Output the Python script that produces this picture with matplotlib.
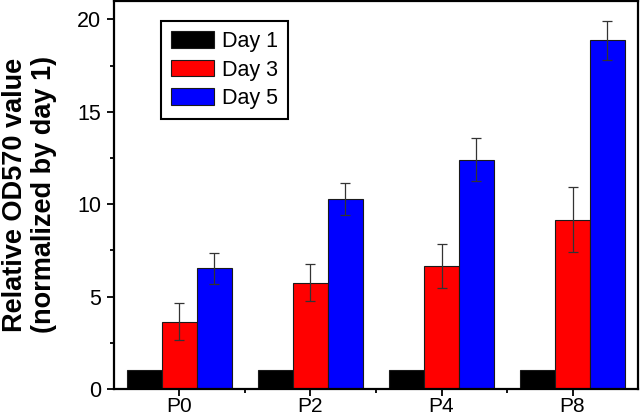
import numpy as np
import matplotlib
matplotlib.use('Agg')
import matplotlib.pyplot as plt
from matplotlib.ticker import MultipleLocator

plt.rcParams['font.family'] = ['Liberation Sans', 'DejaVu Sans']

# 数据
groups = ['P0', 'P2', 'P4', 'P8']
series = ['Day 1', 'Day 3', 'Day 5']
day1 = [1.0, 1.0, 1.0, 1.0]
day3 = [3.63, 5.76, 6.67, 9.16]
day5 = [6.52, 10.28, 12.41, 18.86]
day1_err = [0.0, 0.0, 0.0, 0.0]
day3_err = [1.0, 1.0, 1.2, 1.75]
day5_err = [0.85, 0.88, 1.15, 1.04]
colors = ['#000000', '#ff0000', '#0000ff']

fig = plt.figure(figsize=(6.4, 4.16), dpi=100)
ax = fig.add_axes([0.178, 0.065, 0.819, 0.933])

x = np.arange(len(groups))
w = 0.265
values = [day1, day3, day5]
errors = [day1_err, day3_err, day5_err]
for i, (vals, errs) in enumerate(zip(values, errors)):
    pos = x + (i - 1) * w
    ax.bar(pos, vals, w, color=colors[i], edgecolor='#1a1a1a', linewidth=0.8,
           label=series[i], zorder=2)
    if any(e > 0 for e in errs):
        ax.errorbar(pos, vals, yerr=errs, fmt='none', ecolor='#333333',
                    elinewidth=0.9, capsize=3.5, capthick=0.9, zorder=3)

ax.set_xlim(-0.5, 3.5)
ax.set_ylim(0, 21)
ax.set_xticks(x)
ax.set_xticklabels(groups)
ax.set_xticks(x[:-1] + 0.5, minor=True)
ax.yaxis.set_major_locator(MultipleLocator(5))
ax.yaxis.set_minor_locator(MultipleLocator(2.5))
ax.tick_params(axis='both', which='major', length=5, width=1.3)
ax.tick_params(axis='y', which='major', labelsize=15.5, pad=4)
ax.tick_params(axis='x', which='major', labelsize=15, pad=1)
ax.tick_params(axis='both', which='minor', length=3, width=1.3)
for s in ax.spines.values():
    s.set_linewidth(1.6)

ax.set_ylabel('Relative OD570 value\n(normalized by day 1)', fontsize=19.5,
              fontweight='bold', linespacing=1.15)
ax.yaxis.set_label_coords(-0.108, 0.5)

leg = ax.legend(loc='upper left', bbox_to_anchor=(0.09, 0.947), fontsize=15.5,
                frameon=True, fancybox=False, edgecolor='black', framealpha=1,
                handlelength=2.0, handleheight=0.8, handletextpad=0.4,
                labelspacing=0.35, borderpad=0.45, borderaxespad=0)
leg.get_frame().set_linewidth(1.5)

fig.savefig('out.png', dpi=100)
